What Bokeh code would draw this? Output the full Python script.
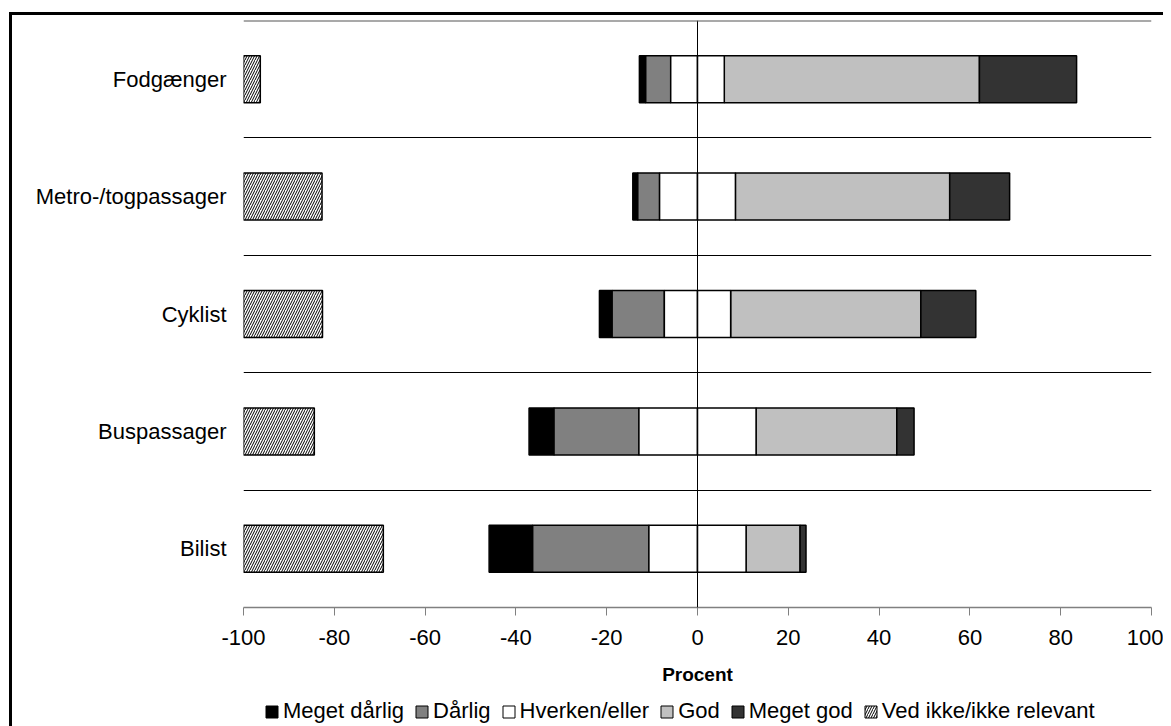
import numpy as np
from bokeh.plotting import figure
from bokeh.layouts import column
from bokeh.models import FixedTicker, Span, Legend, LegendItem
from bokeh.embed import file_html
from bokeh.resources import INLINE

# ---- data (bottom to top) ----
categories = ["Bilist", "Buspassager", "Cyklist", "Metro-/togpassager", "Fodgænger"]
meget_darlig = [9.6, 5.5, 2.8, 1.1, 1.4]
darlig = [25.6, 18.7, 11.5, 4.8, 5.5]
hverken = [21.4, 25.8, 14.6, 16.7, 11.8]
god = [11.9, 31.0, 41.9, 47.2, 56.2]
meget_god = [1.3, 3.8, 12.1, 13.2, 21.4]
ved_ikke = [30.8, 15.6, 17.4, 17.3, 3.7]
x_ticks = [-100, -80, -60, -40, -20, 0, 20, 40, 60, 80, 100]
x_tick_labels = ["-100", "-80", "-60", "-40", "-20", "0", "20", "40", "60", "80", "100"]
series_names = ["Meget dårlig", "Dårlig", "Hverken/eller", "God", "Meget god", "Ved ikke/ikke relevant"]
series_colors = ["#000000", "#808080", "#FFFFFF", "#C0C0C0", "#333333", "#FFFFFF"]
x_label = "Procent"

FONT = "Liberation Sans"

y = np.arange(len(categories)) + 0.5
half = np.array(hverken) / 2.0
d = np.array(darlig)
md = np.array(meget_darlig)
g = np.array(god)
mg = np.array(meget_god)
vi = np.array(ved_ikke)

# left/right edges of each segment, in draw order (matching series_names / colours)
segments = [
    (-half - d - md, -half - d),   # Meget dårlig
    (-half - d, -half),            # Dårlig
    (-half, np.zeros_like(half)),  # Hverken/eller (left half)
    (half, half + g),              # God
    (half + g, half + g + mg),     # Meget god
    (np.full_like(vi, -100.0), -100 + vi),  # Ved ikke/ikke relevant
]
hv_right = (np.zeros_like(half), half)  # Hverken/eller (right half)

p = figure(frame_width=908, frame_height=587, x_range=(-100, 100), y_range=(0, len(categories)),
           output_backend="svg", toolbar_location=None,
           min_border_left=243, min_border_right=12, min_border_top=20, min_border_bottom=90)
p.outline_line_color = None
p.background_fill_color = "white"
p.border_fill_color = None
# outer chart frame (thick black lines at left and top)
p.styles = {
    "background-color": "white",
    "background-image": "linear-gradient(#000000, #000000), linear-gradient(#000000, #000000)",
    "background-size": "3px 100%, 100% 3px",
    "background-position": "9px 12px, 9px 12px",
    "background-repeat": "no-repeat",
}

bh = 0.4
lw = 1.5
hatch = dict(hatch_pattern="/", hatch_color="black", hatch_scale=5, hatch_weight=1)


def draw_bars(fig, line_width):
    rs = []
    for i, (lft, rgt) in enumerate(segments):
        extra = hatch if i == len(segments) - 1 else {}
        rs.append(fig.hbar(y=y, left=lft, right=rgt, height=bh, fill_color=series_colors[i],
                           line_color="black", line_width=line_width, **extra))
    fig.hbar(y=y, left=hv_right[0], right=hv_right[1], height=bh, fill_color=series_colors[2],
             line_color="black", line_width=line_width)
    return rs


draw_bars(p, lw)

p.add_layout(Span(location=0, dimension="height", line_color="black", line_width=1))
p.add_layout(Span(location=len(categories), dimension="width", line_color="#555555", line_width=2))

# grid: category separators
p.xgrid.visible = False
p.ygrid.ticker = FixedTicker(ticks=list(range(1, len(categories))))
p.ygrid.grid_line_color = "black"
p.ygrid.grid_line_width = 1

# x axis
p.xaxis.ticker = FixedTicker(ticks=x_ticks)
p.xaxis.major_label_overrides = {t: s for t, s in zip(x_ticks, x_tick_labels)}
p.xaxis.axis_line_color = "#808080"
p.xaxis.axis_line_width = 1.5
p.xaxis.major_tick_line_color = "#808080"
p.xaxis.major_tick_out = 8
p.xaxis.major_tick_in = 0
p.xaxis.minor_tick_line_color = None
p.xaxis.major_label_standoff = 14
p.xaxis.major_label_text_font = FONT
p.xaxis.major_label_text_font_size = "22px"
p.xaxis.major_label_text_color = "black"
p.xaxis.axis_label = x_label
p.xaxis.axis_label_text_font = FONT
p.xaxis.axis_label_text_font_size = "19px"
p.xaxis.axis_label_text_font_style = "bold"
p.xaxis.axis_label_text_color = "black"
p.xaxis.axis_label_standoff = 16

# y axis
p.yaxis.ticker = FixedTicker(ticks=list(y))
p.yaxis.major_label_overrides = {float(v): c for v, c in zip(y, categories)}
p.yaxis.axis_line_color = None
p.yaxis.major_tick_line_color = None
p.yaxis.minor_tick_line_color = None
p.yaxis.major_label_standoff = 11
p.yaxis.major_label_text_font = FONT
p.yaxis.major_label_text_font_size = "22px"
p.yaxis.major_label_text_color = "black"

# ---- legend strip (separate figure directly below; its bars lie outside its view) ----
p2 = figure(width=1163, height=29, x_range=(-100, 100), y_range=(100, 101),
            output_backend="svg", toolbar_location=None,
            min_border_left=0, min_border_right=0, min_border_top=0, min_border_bottom=0)
p2.outline_line_color = None
p2.axis.visible = False
p2.grid.visible = False
p2.background_fill_color = None
p2.border_fill_color = None
p2.styles = {
    "background-color": "white",
    "background-image": "linear-gradient(#000000, #000000)",
    "background-size": "3px 100%",
    "background-position": "9px 0px",
    "background-repeat": "no-repeat",
}
leg_renderers = draw_bars(p2, 1)
items = [LegendItem(label=name, renderers=[r]) for name, r in zip(series_names, leg_renderers)]

legend = Legend(items=items, orientation="horizontal", location=(21, 2))
legend.label_text_font = FONT
legend.label_text_font_size = "22px"
legend.label_text_color = "black"
legend.glyph_width = 15
legend.glyph_height = 15
legend.label_standoff = 4
legend.spacing = 10
legend.padding = 0
legend.margin = 0
legend.border_line_color = None
legend.background_fill_alpha = 0
legend.label_height = 22
p2.add_layout(legend, "center")

layout = column(p, p2, spacing=0)
open("out.html", "w").write(file_html(layout, INLINE))
